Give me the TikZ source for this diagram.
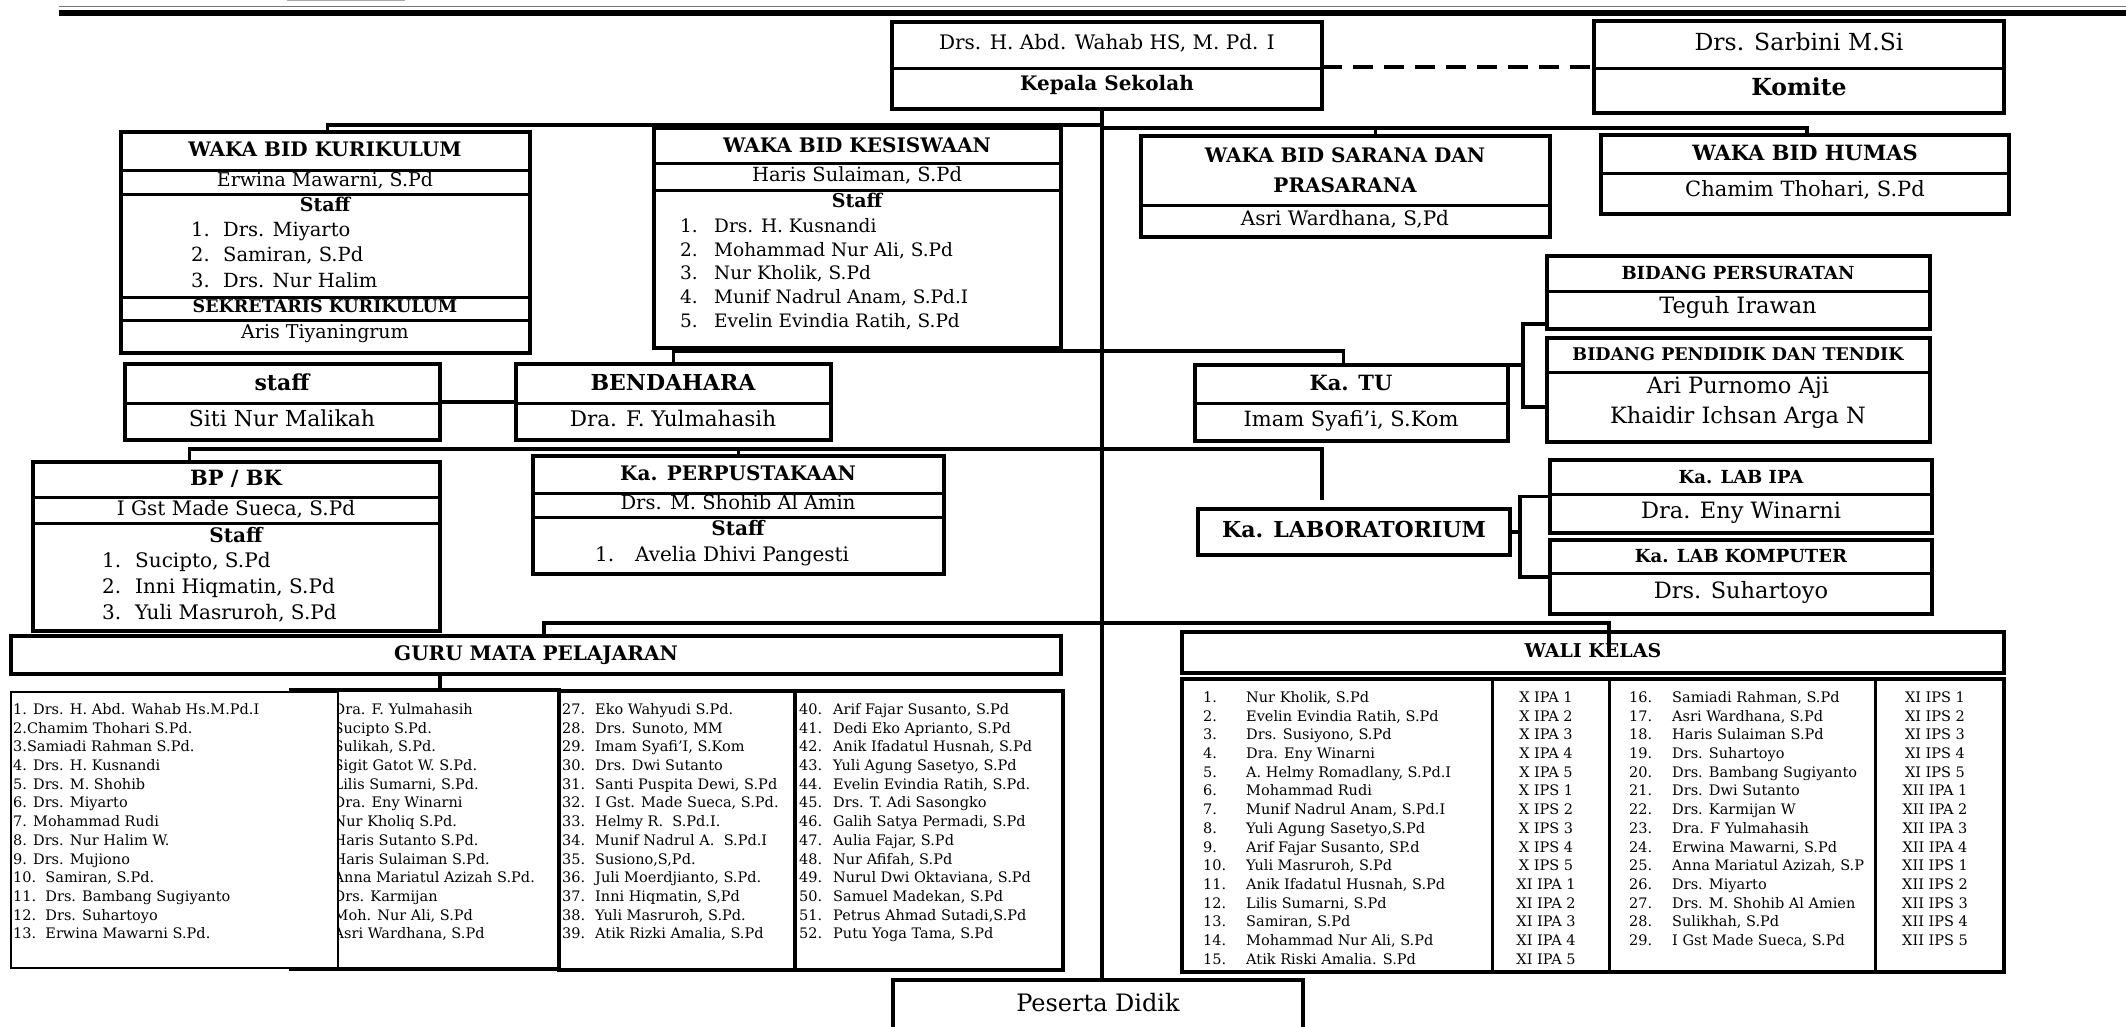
\documentclass[tikz,border=0pt]{standalone}
\usepackage{fontspec}
\setmainfont{DejaVu Serif}
\usetikzlibrary{calc}
\newcommand\fz[1]{\fontsize{#1}{#1}\selectfont}
\newcommand\bx[6][]{\node[boxst,#1,minimum width={#4-#2},minimum height={#5-#3}] (#6) at ({(#2+#4)/2},{(#3+#5)/2}) {};}
\tikzset{
  boxst/.style={draw,line width=3.5pt,fill=white,inner sep=0pt,outer sep=0pt},
  conn/.style={line width=3.5pt},
  divl/.style={line width=3pt},
  tc/.style={inner sep=0pt,anchor=mid,yshift=-1.8pt},
  tw/.style={inner sep=0pt,anchor=mid west,yshift=-1.8pt},
  fR/.style={font=\fz{#1}},
  fB/.style={font=\bfseries\fz{#1}},
}
\begin{document}
\begin{tikzpicture}[x=1pt,y=-1pt]
\useasboundingbox (0,0) rectangle (2126,1026);
\clip (0,0) rectangle (2126,1026);
\fill[white] (0,0) rectangle (2126,1026);
% top rules
\draw[line width=1.5pt,black!55] (59,6.5) -- (2126,6.5);
\draw[line width=6pt] (59,12.5) -- (2126,12.5);
\draw[line width=1.5pt,black!35] (287,0.6) -- (405,0.6);

% ---------- boxes ----------
\bx{892}{22}{1322}{109}{kepala}
\bx{1594}{21}{2004}{113}{komite}
\bx{121}{132}{530}{353}{kurik}
\bx{654}{128}{1061}{348}{kesis}
\bx{1141}{136}{1550}{237}{sarana}
\bx{1601}{135}{2009}{214}{humas}
\bx{1547}{256}{1930}{329}{persurat}
\bx{1547}{338}{1930}{442}{pendidik}
\bx{125}{364}{440}{440}{staffb}
\bx{516}{364}{831}{440}{bendahara}
\bx{1195}{365}{1508}{441}{katu}
\bx{33}{462}{440}{631}{bpbk}
\bx{533}{456}{944}{574}{perpus}
\bx{1198}{509}{1510}{555}{lab}
\bx{1550}{460}{1932}{533}{labipa}
\bx{1550}{540}{1932}{614}{labkom}
\bx{11}{636}{1061}{674}{guru}
\bx{1182}{632}{2004}{673}{wali}
\bx{893}{980}{1303}{1070}{peserta}
\bx{1182}{679}{2004}{972}{wtab}

% dividers
\draw[divl] (892,68) -- (1322,68);
\draw[divl] (1594,68) -- (2004,68);
\foreach \yy in {170,194,297,320} \draw[divl] (121,\yy) -- (530,\yy);
\foreach \yy in {163,190} \draw[divl] (654,\yy) -- (1061,\yy);
\draw[divl] (1141,205) -- (1550,205);
\draw[divl] (1601,173) -- (2009,173);
\draw[divl] (1547,291) -- (1930,291);
\draw[divl] (1547,372) -- (1930,372);
\draw[divl] (125,403) -- (440,403);
\draw[divl] (516,403) -- (831,403);
\draw[divl] (1195,403) -- (1508,403);
\foreach \yy in {497,523} \draw[divl] (33,\yy) -- (440,\yy);
\foreach \yy in {493,517} \draw[divl] (533,\yy) -- (944,\yy);
\draw[divl] (1550,494) -- (1932,494);
\draw[divl] (1550,573) -- (1932,573);
\foreach \xx in {1492,1609,1875} \draw[divl] (\xx,679) -- (\xx,972);

% ---------- guru table ----------
\bx{795}{691}{1063}{970}{gd}
\bx{559}{691}{795}{970}{gc}
\bx{291}{690}{559}{969}{gb}
\foreach \t [count=\i] in {{Dra. F. Yulmahasih},{Sucipto S.Pd.},{Sulikah, S.Pd.},{Sigit Gatot W. S.Pd.},{Lilis Sumarni, S.Pd.},{Dra. Eny Winarni},{Nur Kholiq S.Pd.},{Haris Sutanto S.Pd.},{Haris Sulaiman S.Pd.},{Anna Mariatul Azizah S.Pd.},{Drs. Karmijan},{Moh. Nur Ali, S.Pd},{Asri Wardhana, S.Pd}}
  \node[tw,fR=14.5] (gbt\i) at (333.5,{710+(\i-1)*18.7}) {\t};
\bx[line width=1.6pt]{11}{692}{338}{968}{ga}
\foreach \t [count=\i] in {{1. Drs. H. Abd. Wahab Hs.M.Pd.I},{2.Chamim Thohari S.Pd.},{3.Samiadi Rahman S.Pd.},{4. Drs. H. Kusnandi},{5. Drs. M. Shohib},{6. Drs. Miyarto},{7. Mohammad Rudi},{8. Drs. Nur Halim W.},{9. Drs. Mujiono},{10.\ \ Samiran, S.Pd.},{11.\ \ Drs. Bambang Sugiyanto},{12.\ \ Drs. Suhartoyo},{13.\ \ Erwina Mawarni S.Pd.}}
  \node[tw,fR=14.5] (gat\i) at (13,{710+(\i-1)*18.7}) {\t};
\foreach \t [count=\i from 27] in {{Eko Wahyudi S.Pd.},{Drs. Sunoto, MM},{Imam Syafi’I, S.Kom},{Drs. Dwi Sutanto},{Santi Puspita Dewi, S.Pd},{I Gst. Made Sueca, S.Pd.},{Helmy R.\ \ S.Pd.I.},{Munif Nadrul A.\ \ S.Pd.I},{Susiono,S,Pd.},{Juli Moerdjianto, S.Pd.},{Inni Hiqmatin, S,Pd},{Yuli Masruroh, S.Pd.},{Atik Rizki Amalia, S.Pd}}
  {\node[tw,fR=14.5] (gcn\i) at (562,{710+(\i-27)*18.7}) {\i.};
   \node[tw,fR=14.5] (gct\i) at (595,{710+(\i-27)*18.7}) {\t};}
\foreach \t [count=\i from 40] in {{Arif Fajar Susanto, S.Pd},{Dedi Eko Aprianto, S.Pd},{Anik Ifadatul Husnah, S.Pd},{Yuli Agung Sasetyo, S.Pd},{Evelin Evindia Ratih, S.Pd.},{Drs. T. Adi Sasongko},{Galih Satya Permadi, S.Pd},{Aulia Fajar, S.Pd},{Nur Afifah, S.Pd},{Nurul Dwi Oktaviana, S.Pd},{Samuel Madekan, S.Pd},{Petrus Ahmad Sutadi,S.Pd},{Putu Yoga Tama, S.Pd}}
  {\node[tw,fR=14.5] (gdn\i) at (799,{710+(\i-40)*18.7}) {\i.};
   \node[tw,fR=14.5] (gdt\i) at (833,{710+(\i-40)*18.7}) {\t};}

% ---------- wali table ----------
\foreach \n/\c [count=\i] in {{Nur Kholik, S.Pd}/X IPA 1,{Evelin Evindia Ratih, S.Pd}/X IPA 2,{Drs. Susiyono, S.Pd}/X IPA 3,{Dra. Eny Winarni}/X IPA 4,{A. Helmy Romadlany, S.Pd.I}/X IPA 5,{Mohammad Rudi}/X IPS 1,{Munif Nadrul Anam, S.Pd.I}/X IPS 2,{Yuli Agung Sasetyo,S.Pd}/X IPS 3,{Arif Fajar Susanto, SP.d}/X IPS 4,{Yuli Masruroh, S.Pd}/X IPS 5,{Anik Ifadatul Husnah, S.Pd}/XI IPA 1,{Lilis Sumarni, S.Pd}/XI IPA 2,{Samiran, S.Pd}/XI IPA 3,{Mohammad Nur Ali, S.Pd}/XI IPA 4,{Atik Riski Amalia. S.Pd}/XI IPA 5}
  {\node[tw,fR=14.5] (wan\i) at (1203,{698+(\i-1)*18.71}) {\i.};
   \node[tw,fR=14.5] (wat\i) at (1246,{698+(\i-1)*18.71}) {\n};
   \node[tc,fR=14.5] (wac\i) at (1546,{698+(\i-1)*18.71}) {\c};}
\foreach \n/\c [count=\i from 16] in {{Samiadi Rahman, S.Pd}/XI IPS 1,{Asri Wardhana, S.Pd}/XI IPS 2,{Haris Sulaiman S.Pd}/XI IPS 3,{Drs. Suhartoyo}/XI IPS 4,{Drs. Bambang Sugiyanto}/XI IPS 5,{Drs. Dwi Sutanto}/XII IPA 1,{Drs. Karmijan W}/XII IPA 2,{Dra. F Yulmahasih}/XII IPA 3,{Erwina Mawarni, S.Pd}/XII IPA 4,{Anna Mariatul Azizah, S.P}/XII IPS 1,{Drs. Miyarto}/XII IPS 2,{Drs. M. Shohib Al Amien}/XII IPS 3,{Sulikhah, S.Pd}/XII IPS 4,{I Gst Made Sueca, S.Pd}/XII IPS 5}
  {\node[tw,fR=14.5] (wcn\i) at (1629,{698+(\i-16)*18.71}) {\i.};
   \node[tw,fR=14.5] (wct\i) at (1672,{698+(\i-16)*18.71}) {\n};
   \node[tc,fR=14.5] (wcc\i) at (1935,{698+(\i-16)*18.71}) {\c};}

% ---------- connectors ----------
\coordinate (tx) at (1102,0);
\coordinate (yA) at (0,125);
\coordinate (yB) at (0,128);
\coordinate (yC) at (0,351);
\coordinate (yD) at (0,449);
\coordinate (yE) at (0,623);
\draw[conn] (kepala.south -| tx) -- (peserta.north -| tx);
\draw[conn,dash pattern=on 20pt off 11pt] (kepala.east |- komite.west) -- (komite.west);
\draw[conn] ([xshift=2]kurik.north) -- ([xshift=2]kurik.north |- yA) -- (tx |- yA);
\draw[conn] (tx |- yB) -- ([xshift=2]humas.north |- yB) -- ([xshift=2]humas.north);
\draw[conn] ([xshift=30]sarana.north) -- ([xshift=30]sarana.north |- yB);
\draw[conn] (bendahara.north) -- (bendahara.north |- yC) -- ([xshift=-8]katu.north |- yC) -- ([xshift=-8]katu.north);
\draw[conn] (staffb.east) -- (bendahara.west);
\draw[conn] ([xshift=-47]bpbk.north) -- ([xshift=-47]bpbk.north |- yD) -- ([xshift=-32]lab.north |- yD) -- ([xshift=-32,yshift=9]lab.north);
\draw[conn] (perpus.north) -- (perpus.north |- yD);
\draw[conn] ([xshift=8]guru.north) -- ([xshift=8]guru.north |- yE) -- ([xshift=16]wali.north |- yE) -- ([xshift=16]wali.center);
\draw[conn] ([xshift=-96]guru.south) -- ([xshift=-96]guru.south |- gb.north);
\draw[conn] (katu.north east) -- ++(15,0);
\draw[conn] ([yshift=-31.5]persurat.west) -- ++(-24,0) |- ([yshift=-17]pendidik.west);
\draw[conn] (lab.east) -- ++(10,0);
\draw[conn] (labipa.west) -- ++(-30,0) |- (labkom.west);

% ---------- texts ----------
\node[tc,fR=20] (kp1) at (1107,45) {Drs. H. Abd. Wahab HS, M. Pd. I};
\node[tc,fB=20] (kp2) at (1107,86) {Kepala Sekolah};
\node[tc,fR=23.5] (km1) at (1799,46) {Drs. Sarbini M.Si};
\node[tc,fB=23.5] (km2) at (1799,91) {Komite};

\node[tc,fB=20] (ku1) at (325,152) {WAKA BID KURIKULUM};
\node[tc,fR=19] (ku2) at (325,182) {Erwina Mawarni, S.Pd};
\node[tc,fB=19] (ku3) at (325,207) {Staff};
\foreach \t [count=\i] in {{Drs. Miyarto},{Samiran, S.Pd},{Drs. Nur Halim}}
  {\node[tw,fR=19.5] (kun\i) at (191,{232+(\i-1)*25.5}) {\i.};
   \node[tw,fR=19.5] (kut\i) at (223,{232+(\i-1)*25.5}) {\t};}
\node[tc,fB=17.5] (ku4) at (325,308) {SEKRETARIS KURIKULUM};
\node[tc,fR=19] (ku5) at (325,334) {Aris Tiyaningrum};

\node[tc,fB=20] (ks1) at (857,148) {WAKA BID KESISWAAN};
\node[tc,fR=19.5] (ks2) at (857,177) {Haris Sulaiman, S.Pd};
\node[tc,fB=19] (ks3) at (857,203) {Staff};
\foreach \t [count=\i] in {{Drs. H. Kusnandi},{Mohammad Nur Ali, S.Pd},{Nur Kholik, S.Pd},{Munif Nadrul Anam, S.Pd.I},{Evelin Evindia Ratih, S.Pd}}
  {\node[tw,fR=18.5] (ksn\i) at (680,{228+(\i-1)*23.7}) {\i.};
   \node[tw,fR=18.5] (kst\i) at (714,{228+(\i-1)*23.7}) {\t};}

\node[tc,fB=20] (sr1) at (1345,158) {WAKA BID SARANA DAN};
\node[tc,fB=20] (sr2) at (1345,188) {PRASARANA};
\node[tc,fR=20] (sr3) at (1345,221) {Asri Wardhana, S,Pd};
\node[tc,fB=21] (hm1) at (1805,156) {WAKA BID HUMAS};
\node[tc,fR=21] (hm2) at (1805,192) {Chamim Thohari, S.Pd};

\node[tc,fB=18] (ps1) at (1738,275) {BIDANG PERSURATAN};
\node[tc,fR=22.5] (ps2) at (1738,309) {Teguh Irawan};
\node[tc,fB=17.5] (pd1) at (1738,356) {BIDANG PENDIDIK DAN TENDIK};
\node[tc,fR=22.5] (pd2) at (1738,389) {Ari Purnomo Aji};
\node[tc,fR=22.5] (pd3) at (1738,419) {Khaidir Ichsan Arga N};

\node[tc,fB=22] (sf1) at (282,386) {staff};
\node[tc,fR=22] (sf2) at (282,422) {Siti Nur Malikah};
\node[tc,fB=22] (bd1) at (673,386) {BENDAHARA};
\node[tc,fR=21.5] (bd2) at (673,422) {Dra. F. Yulmahasih};
\node[tc,fB=21] (tu1) at (1351,386) {Ka. TU};
\node[tc,fR=21] (tu2) at (1351,422) {Imam Syafi’i, S.Kom};

\node[tc,fB=21] (bp1) at (236,481) {BP / BK};
\node[tc,fR=20] (bp2) at (236,511) {I Gst Made Sueca, S.Pd};
\node[tc,fB=20] (bp3) at (236,538) {Staff};
\foreach \t [count=\i] in {{Sucipto, S.Pd},{Inni Hiqmatin, S.Pd},{Yuli Masruroh, S.Pd}}
  {\node[tw,fR=20] (bpn\i) at (102,{563+(\i-1)*26}) {\i.};
   \node[tw,fR=20] (bpt\i) at (135,{563+(\i-1)*26}) {\t};}

\node[tc,fB=20] (pp1) at (738,476) {Ka. PERPUSTAKAAN};
\node[tc,fR=19.5] (pp2) at (738,505) {Drs. M. Shohib Al Amin};
\node[tc,fB=20] (pp3) at (738,531) {Staff};
\node[tw,fR=20] (pp4) at (595,557) {1.};
\node[tw,fR=20] (pp5) at (635,557) {Avelia Dhivi Pangesti};

\node[tc,fB=22] (lb1) at (1354,533) {Ka. LABORATORIUM};
\node[tc,fB=18] (li1) at (1741,479) {Ka. LAB IPA};
\node[tc,fR=22.5] (li2) at (1741,514) {Dra. Eny Winarni};
\node[tc,fB=18] (lk1) at (1741,558) {Ka. LAB KOMPUTER};
\node[tc,fR=22.5] (lk2) at (1741,594) {Drs. Suhartoyo};

\node[tc,fB=20] (gu1) at (536,656) {GURU MATA PELAJARAN};
\node[tc,fB=19] (wk1) at (1593,653) {WALI KELAS};
\node[tc,fR=24] (pt1) at (1098,1007) {Peserta Didik};
\end{tikzpicture}
\end{document}
